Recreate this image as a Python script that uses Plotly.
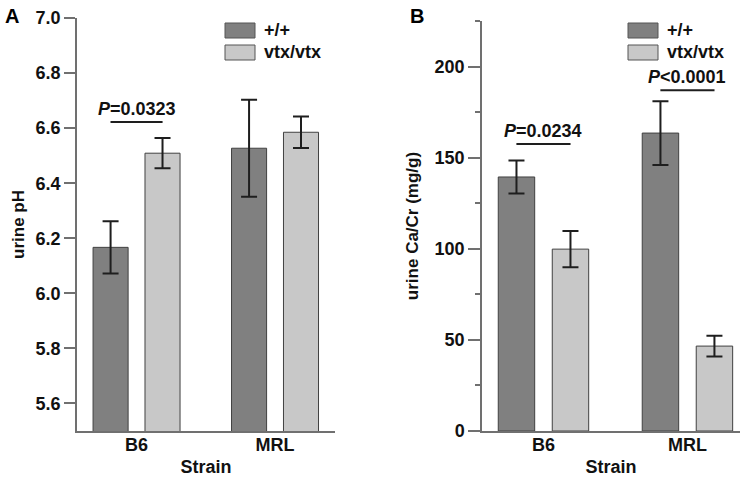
import plotly.graph_objects as go

# ---------------- data ----------------
strains = ["B6", "MRL"]
genotypes = ["+/+", "vtx/vtx"]
bar_colors = ["#808080", "#c8c8c8"]

ph_wt = [6.167, 6.527]
ph_wt_err = [0.095, 0.176]
ph_vtx = [6.509, 6.585]
ph_vtx_err = [0.055, 0.057]

cacr_wt = [139.4, 163.5]
cacr_wt_err = [9.0, 17.5]
cacr_vtx = [99.8, 46.6]
cacr_vtx_err = [10.0, 5.7]

ph_ticks = [5.6, 5.8, 6.0, 6.2, 6.4, 6.6, 6.8, 7.0]
cacr_ticks = [0, 50, 100, 150, 200]

ph_sig_strain = ["B6"]
ph_sig_y = [6.622]
ph_sig_label = ["=0.0323"]

cacr_sig_strain = ["B6", "MRL"]
cacr_sig_y = [157.5, 187.0]
cacr_sig_label = ["=0.0234", "<0.0001"]

# ---------------- figure ----------------
W, H = 744, 481
FONT = "Liberation Sans, Arial, sans-serif"
AXC = "#707070"
ERRC = "#1e1e1e"

fig = go.Figure()

panels = [
    ("x", "y", [ph_wt, ph_vtx], [ph_wt_err, ph_vtx_err]),
    ("x2", "y2", [cacr_wt, cacr_vtx], [cacr_wt_err, cacr_vtx_err]),
]
for xa, ya, vals, errs in panels:
    for gi, g in enumerate(genotypes):
        fig.add_trace(go.Bar(
            x=strains, y=vals[gi], name=g, xaxis=xa, yaxis=ya,
            offsetgroup=str(gi), showlegend=False,
            marker=dict(color=bar_colors[gi], line=dict(color="#404040", width=1)),
            error_y=dict(type="data", array=errs[gi], visible=True,
                         color=ERRC, thickness=2, width=8),
        ))

def px(v):
    return v / W

def py(v):
    return 1 - v / H

tickfont = dict(family=FONT, size=18, color="#111", weight="bold")
titlefont = dict(family=FONT, size=18, color="#111", weight="bold")

common_x = dict(showline=True, linecolor=AXC, linewidth=1.5, ticks="",
                showgrid=False, zeroline=False, tickfont=tickfont,
                type="category", automargin=False, ticklabelstandoff=-3)
common_y = dict(showline=True, linecolor=AXC, linewidth=1.5, ticks="outside",
                tickcolor=AXC, tickwidth=1.5, showgrid=False, zeroline=False,
                tickfont=tickfont, automargin=False)

fig.update_layout(
    width=W, height=H,
    margin=dict(l=0, r=0, t=0, b=0),
    paper_bgcolor="white", plot_bgcolor="white",
    barmode="group", bargap=0.25, bargroupgap=0.325,
    xaxis=dict(common_x, domain=[px(77), px(335)], range=[-0.43, 1.433], anchor="y",
               title=dict(text="Strain", font=titlefont, standoff=6)),
    yaxis=dict(common_y, domain=[py(431), py(18)], range=[5.5, 7.0], anchor="x",
               tickvals=ph_ticks, ticktext=[f"{t:.1f}" for t in ph_ticks],
               ticklen=11,
               title=dict(text="urine pH", font=dict(titlefont, size=17), standoff=7)),
    xaxis2=dict(common_x, domain=[px(482), px(740)], range=[-0.427, 1.365], anchor="y2",
                title=dict(text="Strain", font=titlefont, standoff=6)),
    yaxis2=dict(common_y, domain=[py(431), py(21)], range=[0, 225], anchor="x2",
                tickvals=cacr_ticks, ticktext=[str(t) for t in cacr_ticks],
                ticklen=12,
                minor=dict(tickvals=[25, 75, 125, 175, 225], ticks="outside",
                           ticklen=5, tickcolor=AXC, tickwidth=1.5),
                title=dict(text="urine Ca/Cr (mg/g)", font=dict(titlefont, size=17), standoff=12)),
)

shapes = []
annotations = []

# significance bars
for xa, ya, ss, ys, labs in [("x", "y", ph_sig_strain, ph_sig_y, ph_sig_label),
                             ("x2", "y2", cacr_sig_strain, cacr_sig_y, cacr_sig_label)]:
    for s, yv, lab in zip(ss, ys, labs):
        idx = strains.index(s)
        shapes.append(dict(type="line", xref=xa, yref=ya, x0=idx - 0.188, x1=idx + 0.188,
                           y0=yv, y1=yv, line=dict(color=ERRC, width=2)))
        annotations.append(dict(xref=xa, yref=ya, x=idx, y=yv, yanchor="bottom",
                                yshift=1, showarrow=False,
                                text=f"<b><i>P</i>{lab}</b>",
                                font=dict(family=FONT, size=18, color="#111")))

# legends (one per panel)
for lx in [225, 628]:
    for gi, g in enumerate(genotypes):
        top = 23 + gi * 22
        shapes.append(dict(type="rect", xref="paper", yref="paper",
                           x0=px(lx), x1=px(lx + 30), y0=py(top + 15), y1=py(top),
                           fillcolor=bar_colors[gi], line=dict(color="#555", width=1)))
        annotations.append(dict(xref="paper", yref="paper", x=px(lx + 37), y=py(top + 7.5),
                                xanchor="left", yanchor="middle", showarrow=False,
                                text=f"<b>{g}</b>",
                                font=dict(family=FONT, size=18, color="#111")))

# panel letters
for letter, lx in [("A", 3), ("B", 408)]:
    annotations.append(dict(xref="paper", yref="paper", x=px(lx), y=py(3),
                            xanchor="left", yanchor="top", showarrow=False,
                            text=f"<b>{letter}</b>",
                            font=dict(family=FONT, size=20, color="#000")))

fig.update_layout(shapes=shapes, annotations=annotations)
fig.write_html("out.html", config={"displayModeBar": False},
               post_script="document.body.style.margin='0';document.body.style.overflow='hidden';")
